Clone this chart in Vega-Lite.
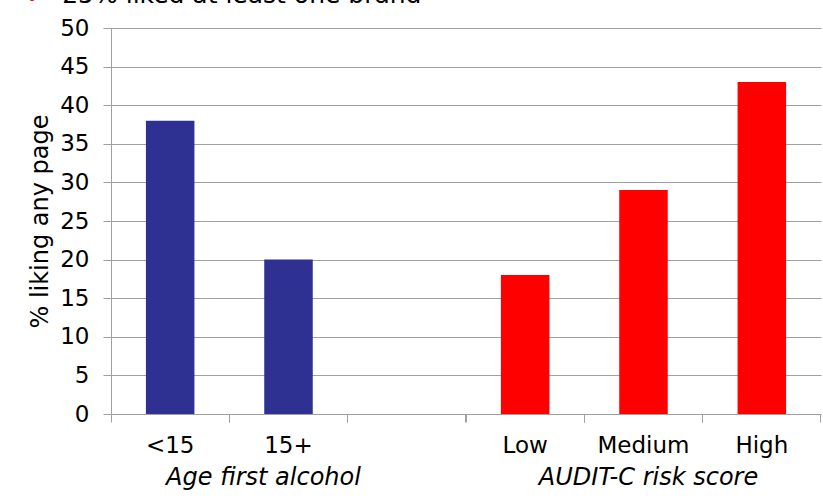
{
  "$schema": "https://vega.github.io/schema/vega-lite/v6.json",
  "width": 710,
  "height": 386,
  "autosize": {"type": "none"},
  "padding": {"left": 111, "top": 28, "right": 2, "bottom": 87},
  "background": "white",
  "config": {
    "font": "DejaVu Sans",
    "view": {"stroke": null}
  },
  "datasets": {
    "bars": [
      {"category": "<15", "group": "age", "value": 38},
      {"category": "15+", "group": "age", "value": 20},
      {"category": "gap", "group": "none", "value": null},
      {"category": "Low", "group": "audit", "value": 18},
      {"category": "Medium", "group": "audit", "value": 29},
      {"category": "High", "group": "audit", "value": 43}
    ],
    "ageLabel": [{"category": "15+", "label": "Age first alcohol", "pos": 0}],
    "auditLabel": [{"category": "Medium", "label": "AUDIT-C risk score", "pos": 0}],
    "heading": [{"category": "<15", "label": "25% liked at least one brand", "pos": 50}],
    "bullet": [{"category": "<15", "label": "•", "pos": 50}]
  },
  "resolve": {"axis": {"x": "independent", "y": "independent"}},
  "layer": [
    {
      "data": {"name": "bars"},
      "mark": {"type": "bar"},
      "encoding": {
        "x": {
          "field": "category",
          "type": "nominal",
          "sort": null,
          "scale": {
            "domain": ["<15", "15+", "gap", "Low", "Medium", "High"],
            "paddingInner": 0.59,
            "paddingOuter": 0.295
          },
          "axis": {
            "title": null,
            "orient": "bottom",
            "labelExpr": "datum.value == 'gap' ? '' : datum.value",
            "labelAngle": 0,
            "labelFontSize": 23,
            "labelColor": "black",
            "labelPadding": 12,
            "bandPosition": -0.719,
            "tickColor": "#a0a0a0",
            "tickSize": 8,
            "domainColor": "#a0a0a0",
            "grid": false
          }
        },
        "y": {
          "field": "value",
          "type": "quantitative",
          "scale": {"domain": [0, 50]},
          "axis": {
            "orient": "left",
            "values": [0, 5, 10, 15, 20, 25, 30, 35, 40, 45, 50],
            "title": "% liking any page",
            "titleFontSize": 24,
            "titleFontWeight": "normal",
            "titleColor": "black",
            "titlePadding": 7,
            "labelFontSize": 23,
            "labelColor": "black",
            "labelPadding": 14,
            "tickSize": 8,
            "tickColor": "#a0a0a0",
            "domainColor": "#a0a0a0",
            "grid": true,
            "gridColor": "#a0a0a0",
            "gridOpacity": 1
          }
        },
        "color": {
          "field": "group",
          "type": "nominal",
          "scale": {"domain": ["age", "audit"], "range": ["#2E3192", "#FF0000"]},
          "legend": null
        }
      }
    },
    {
      "data": {"name": "ageLabel"},
      "mark": {"type": "text", "fontStyle": "italic", "fontSize": 24, "dy": 64, "dx": -25, "baseline": "middle", "color": "black"},
      "encoding": {
        "x": {
          "field": "category",
          "type": "nominal",
          "axis": {
            "orient": "bottom",
            "offset": 0,
            "title": null,
            "labels": false,
            "domain": false,
            "bandPosition": 1.719,
            "tickColor": "#a0a0a0",
            "tickSize": 8,
            "grid": false
          }
        },
        "y": {"field": "pos", "type": "quantitative", "axis": null},
        "text": {"field": "label"}
      }
    },
    {
      "data": {"name": "auditLabel"},
      "mark": {"type": "text", "fontStyle": "italic", "fontSize": 24, "dy": 64, "dx": 5, "baseline": "middle", "color": "black"},
      "encoding": {
        "x": {"field": "category", "type": "nominal", "axis": null},
        "y": {"field": "pos", "type": "quantitative", "axis": null},
        "text": {"field": "label"}
      }
    },
    {
      "data": {"name": "heading"},
      "mark": {"type": "text", "fontSize": 25, "align": "left", "baseline": "alphabetic", "dx": -108, "dy": -25, "color": "black"},
      "encoding": {
        "x": {"field": "category", "type": "nominal", "axis": null},
        "y": {"field": "pos", "type": "quantitative", "axis": null},
        "text": {"field": "label"}
      }
    },
    {
      "data": {"name": "bullet"},
      "mark": {"type": "text", "fontSize": 24, "align": "center", "baseline": "alphabetic", "dx": -138, "dy": -21, "color": "#FF0000"},
      "encoding": {
        "x": {"field": "category", "type": "nominal", "axis": null},
        "y": {"field": "pos", "type": "quantitative", "axis": null},
        "text": {"field": "label"}
      }
    }
  ]
}
